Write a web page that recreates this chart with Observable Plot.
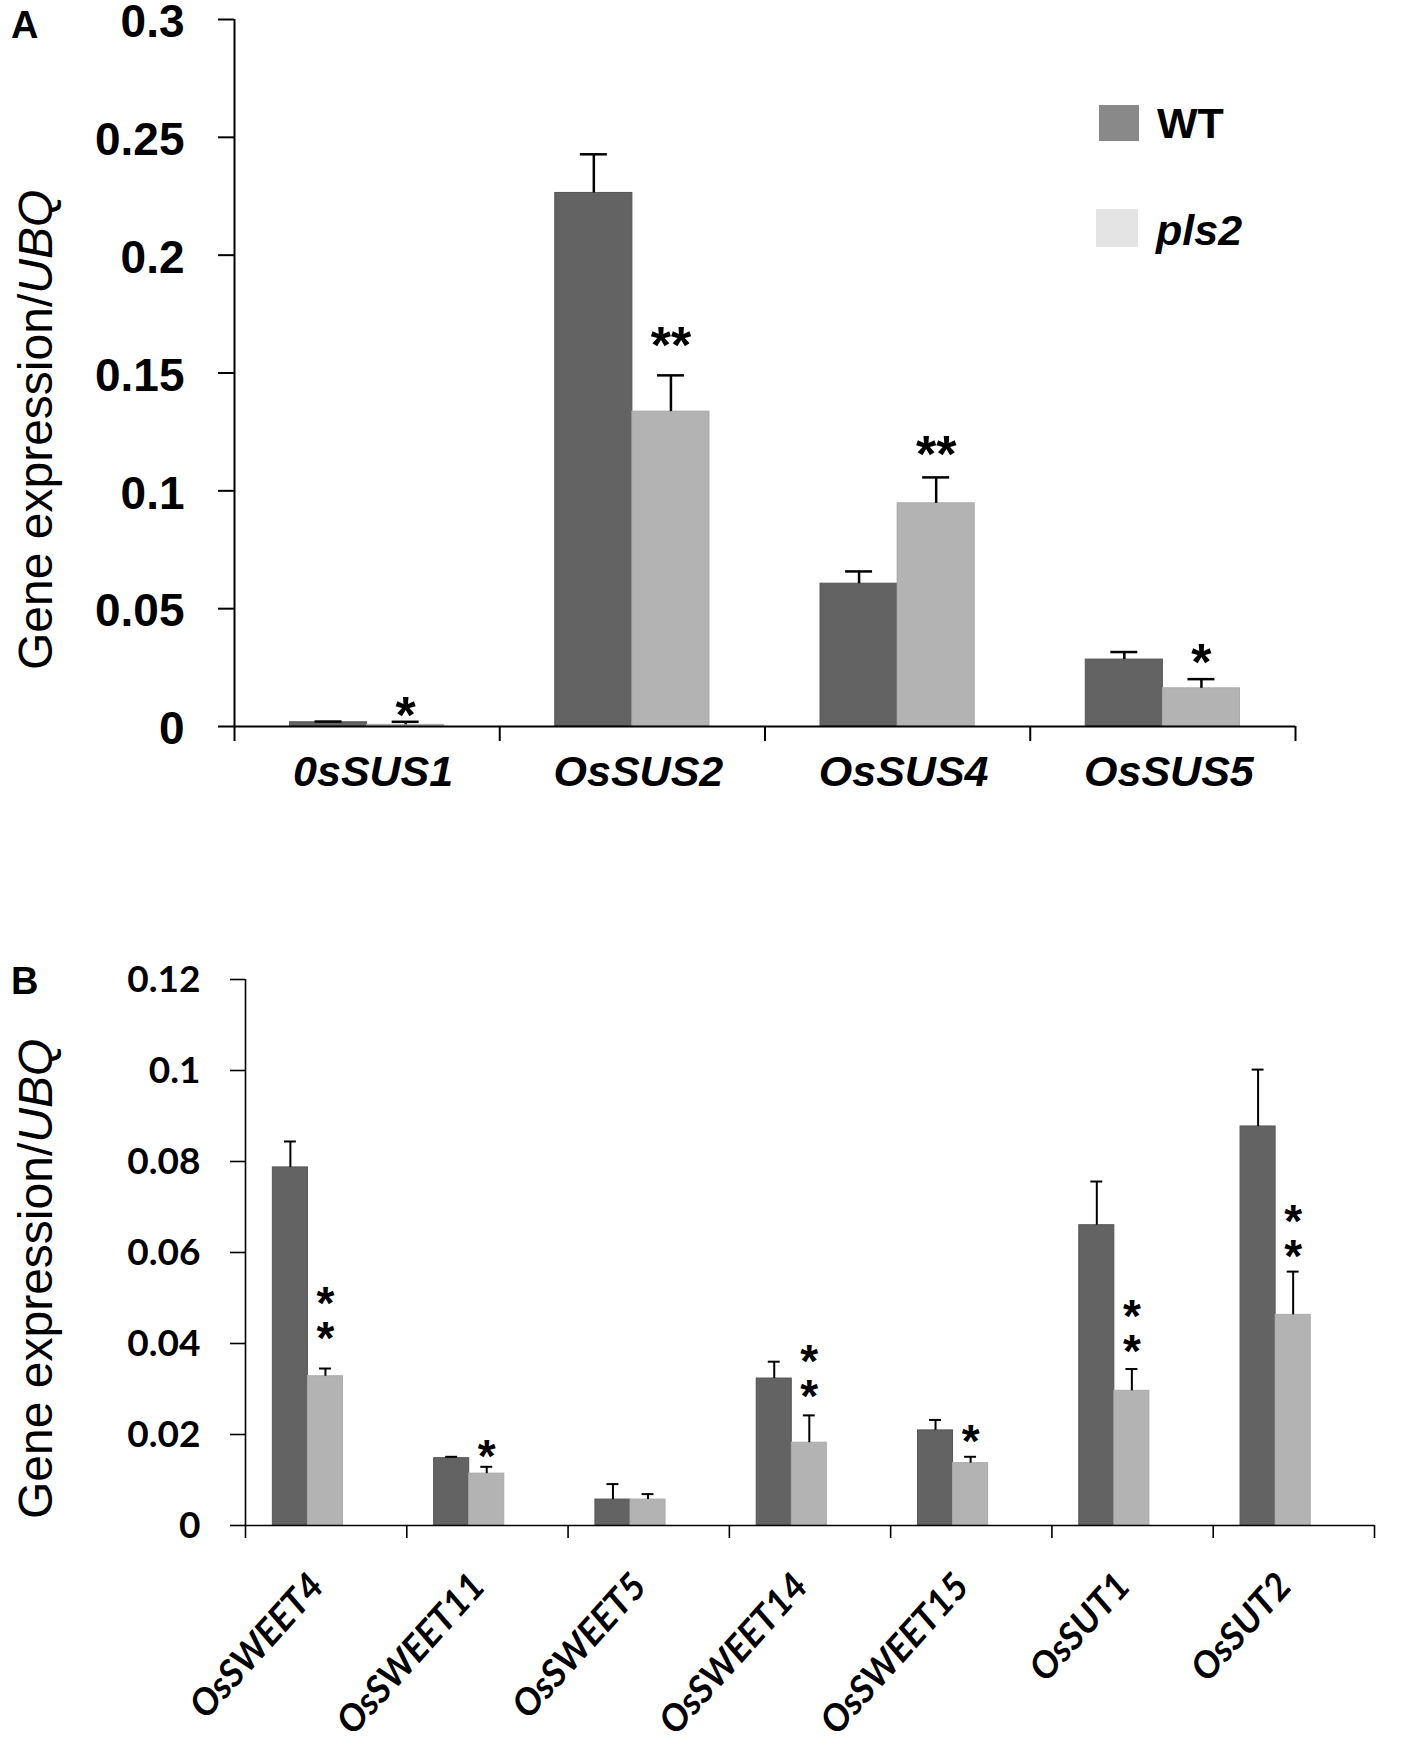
<!DOCTYPE html>
<html>
<head>
<meta charset="utf-8">
<script src="https://cdn.jsdelivr.net/npm/d3@7"></script>
<script src="https://cdn.jsdelivr.net/npm/@observablehq/plot@0.6"></script>
<style>
  html, body { margin: 0; padding: 0; background: #fff; }
  #wrap { position: relative; width: 1406px; height: 1737px; overflow: hidden; }
  #a, #b { position: absolute; left: 0; }
  #a { top: 0; }
  #b { top: 900px; }
</style>
</head>
<body>
<div id="wrap"><div id="a"></div><div id="b"></div></div>
<script>
// ---------- Panel A data ----------
const genesA = ["0sSUS1", "OsSUS2", "OsSUS4", "OsSUS5"];
const wtA = [0.0018, 0.2264, 0.0606, 0.0284];
const wtErrA = [0.0003, 0.0164, 0.0052, 0.0032];
const plsA = [0.0007, 0.1336, 0.0947, 0.0162];
const plsErrA = [0.0013, 0.0154, 0.0110, 0.0039];
const starsA = ["*", "**", "**", "*"];
const starYA = [0.0098, 0.1667, 0.1204, 0.0322];
const yTicksA = [0, 0.05, 0.1, 0.15, 0.2, 0.25, 0.3];
const yTickLabelsA = ["0", "0.05", "0.1", "0.15", "0.2", "0.25", "0.3"];

// ---------- Panel B data ----------
const genesB = ["OsSWEET4", "OsSWEET11", "OsSWEET5", "OsSWEET14", "OsSWEET15", "OsSUT1", "OsSUT2"];
const wtB = [0.0787, 0.0148, 0.0057, 0.0323, 0.0209, 0.0660, 0.0877];
const wtErrB = [0.0057, 0.0003, 0.0034, 0.0037, 0.0023, 0.0096, 0.0125];
const plsB = [0.0328, 0.0114, 0.0057, 0.0182, 0.0137, 0.0296, 0.0463];
const plsErrB = [0.0017, 0.0015, 0.0012, 0.0060, 0.0014, 0.0048, 0.0095];
const starsB = ["*\n*", "*", "", "*\n*", "*", "*\n*", "*\n*"];
const starYB = [0.0465, 0.0167, null, 0.0337, 0.0200, 0.0436, 0.0646];
const yTicksB = [0, 0.02, 0.04, 0.06, 0.08, 0.1, 0.12];
const yTickLabelsB = ["0", "0.02", "0.04", "0.06", "0.08", "0.1", "0.12"];

const groups = ["WT", "pls2"];
const groupNames = ["WT", "pls2"];
const barColors = {WT: "#636363", pls2: "#b3b3b3"};
const swatchColors = {WT: "#898989", pls2: "#e4e4e4"};

function buildRows(genes, wt, wtErr, pls, plsErr, inner) {
  const rows = [];
  genes.forEach((g, i) => {
    [[ "WT", wt[i], wtErr[i]], ["pls2", pls[i], plsErr[i]]].forEach(([grp, v, e]) => {
      const x1 = i + inner(grp);
      const x2 = x1 + inner.bandwidth();
      rows.push({gene: g, group: grp, x1, x2, cx: (x1 + x2) / 2, value: v, top: v + e});
    });
  });
  return rows;
}

function panel(cfg) {
  const n = cfg.genes.length;
  const inner = d3.scaleBand().domain(groups).range([0, 1])
    .paddingInner(0).paddingOuter(cfg.paddingOuter).align(cfg.align);
  const rows = buildRows(cfg.genes, cfg.wt, cfg.wtErr, cfg.pls, cfg.plsErr, inner);
  const cap = inner.bandwidth() * cfg.capFrac;
  const starRows = cfg.genes.map((g, i) => ({
    x: i + inner("pls2") + inner.bandwidth() / 2, y: cfg.starY[i], s: cfg.stars[i]
  })).filter(d => d.s);
  const centers = d3.range(n).map(i => i + 0.5);

  const labelOpts = {ticks: centers, tickSize: 0, tickPadding: cfg.xLabelPad,
    tickFormat: d => cfg.genes[Math.floor(d)], fontSize: cfg.xFont, fontWeight: "bold",
    fontStyle: "italic", fontFamily: cfg.xFamily, fill: "#000", label: null, dx: cfg.xLabelDx};
  if (cfg.rotate) labelOpts.tickRotate = cfg.rotate;

  return Plot.plot({
    width: 1406, height: cfg.height,
    marginTop: cfg.mt, marginBottom: cfg.mb, marginLeft: cfg.ml, marginRight: cfg.mr,
    x: {domain: [0, n], axis: null},
    y: {domain: cfg.yDomain, axis: null},
    style: {fontFamily: "'Liberation Sans', Arial, sans-serif", background: "#fff", color: "#000", overflow: "visible"},
    marks: [
      Plot.rectY(rows, {x1: "x1", x2: "x2", y1: 0, y2: "value",
        fill: d => barColors[d.group], stroke: d => d.group === "WT" ? "#555" : "#aaa", strokeWidth: 1}),
      Plot.ruleX(rows, {x: "cx", y1: "value", y2: "top", stroke: "#000", strokeWidth: cfg.errW}),
      Plot.ruleY(rows, {y: "top", x1: d => d.cx - cap, x2: d => d.cx + cap, stroke: "#000", strokeWidth: cfg.errW}),
      // y ticks (marks only)
      Plot.axisY({ticks: cfg.yTicks, tickSize: cfg.yTickSize, fill: "none",
        stroke: "#000", strokeWidth: cfg.axisW, label: null}),
      // y tick labels (text only)
      Plot.axisY({ticks: cfg.yTicks, tickSize: 0, tickPadding: cfg.yTickSize + cfg.yTickPad,
        tickFormat: d => cfg.yTickLabels[cfg.yTicks.indexOf(d)], fontSize: cfg.yFont, dy: cfg.yLabelDy,
        fontWeight: "bold", fontFamily: cfg.yFamily, fill: "#000", label: null}),
      Plot.ruleX([0], {stroke: "#000", strokeWidth: cfg.axisW}),
      Plot.ruleY([0], {stroke: "#000", strokeWidth: cfg.axisW}),
      Plot.axisX({ticks: d3.range(n + 1), tickSize: cfg.xTickSize, fill: "none",
        stroke: "#000", strokeWidth: cfg.axisW, label: null}),
      Plot.axisX(labelOpts),
      Plot.text(starRows, {x: "x", y: "y", text: "s", fontSize: cfg.starFont, fontWeight: "bold",
        lineAnchor: "middle", lineHeight: cfg.starLH, dy: cfg.starFont * 0.25, fill: "#000",
        fontFamily: "'Liberation Sans', Arial, sans-serif"})
    ]
  });
}

const svgA = panel({
  genes: genesA, wt: wtA, wtErr: wtErrA, pls: plsA, plsErr: plsErrA,
  stars: starsA, starY: starYA, yTicks: yTicksA, yTickLabels: yTickLabelsA,
  yDomain: [0, 0.3], height: 800, mt: 19, mb: 74, ml: 234, mr: 111,
  paddingOuter: 0.72, align: 0.5, capFrac: 0.175, errW: 2.5, axisW: 2,
  yTickSize: 16, yTickPad: 34, yFont: 46, yLabelDy: 3, yFamily: "'Liberation Sans', Arial, sans-serif",
  xTickSize: 15, xLabelPad: 29, xFont: 43, xFamily: "'Liberation Sans', Arial, sans-serif", xLabelDx: 6,
  starFont: 52, starLH: 1
});
document.getElementById("a").appendChild(svgA);

const svgB = panel({
  genes: genesB, wt: wtB, wtErr: wtErrB, pls: plsB, plsErr: plsErrB,
  stars: starsB, starY: starYB, yTicks: yTicksB, yTickLabels: yTickLabelsB,
  yDomain: [0, 0.12], height: 837, mt: 79, mb: 212, ml: 245, mr: 32,
  paddingOuter: 1.3, align: 0.3, capFrac: 0.17, errW: 2, axisW: 1.6,
  yTickSize: 15, yTickPad: 30, yFont: 37, yLabelDy: 1, yFamily: "Lato, 'Open Sans', sans-serif",
  xTickSize: 13, xLabelPad: 54, xFont: 37, xFamily: "Lato, 'Open Sans', sans-serif", xLabelDx: -9,
  rotate: -48, starFont: 46, starLH: 0.76
});
document.getElementById("b").appendChild(svgB);

// ---------- Annotations: panel letters, y labels, legend ----------
const FONT = "'Liberation Sans', Arial, sans-serif";
function yLabel(svg, startY) {
  const t = d3.select(svg).append("text")
    .attr("text-anchor", "start")
    .attr("transform", `translate(52,${startY}) rotate(-90)`)
    .attr("font-family", FONT)
    .attr("font-size", 48).attr("fill", "#000");
  t.append("tspan").text("Gene expression/");
  t.append("tspan").attr("font-style", "italic").text("UBQ");
}
function letter(svg, txt, y) {
  d3.select(svg).append("text").attr("text-anchor", "start").attr("x", 11).attr("y", y)
    .attr("font-family", FONT)
    .attr("font-size", 38).attr("font-weight", "bold").attr("fill", "#000").text(txt);
}
letter(svgA, "A", 38);
letter(svgB, "B", 94);
yLabel(svgA, 670);
yLabel(svgB, 1519 - 900);

// legend (panel A)
const leg = d3.select(svgA).append("g")
  .attr("font-family", FONT).attr("font-weight", "bold").attr("text-anchor", "start");
const legendItems = [
  {g: groups[0], name: groupNames[0], rx: 1099, ry: 105, rw: 40, rh: 36, tx: 1157, ty: 138, italic: false},
  {g: groups[1], name: groupNames[1], rx: 1096, ry: 209, rw: 42, rh: 38, tx: 1156, ty: 245, italic: true}
];
legendItems.forEach(d => {
  leg.append("rect").attr("x", d.rx).attr("y", d.ry).attr("width", d.rw).attr("height", d.rh)
    .attr("fill", swatchColors[d.g]);
  leg.append("text").attr("x", d.tx).attr("y", d.ty).attr("font-size", 43)
    .attr("font-style", d.italic ? "italic" : "normal").attr("fill", "#000").text(d.name);
});
</script>
</body>
</html>
